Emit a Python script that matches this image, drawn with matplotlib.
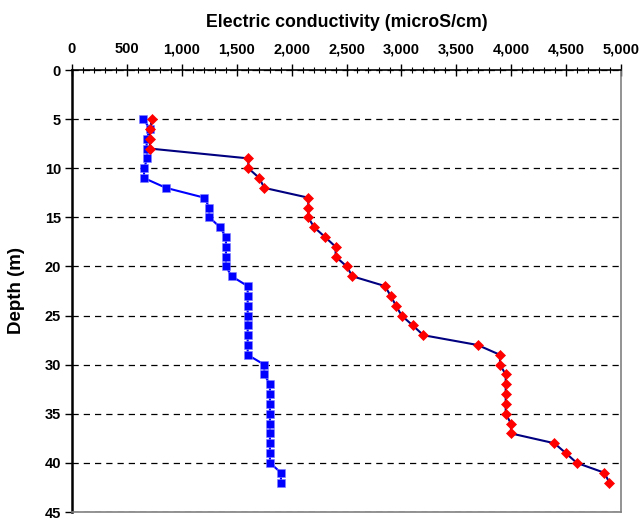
import matplotlib
matplotlib.use("Agg")
import matplotlib.pyplot as plt
from matplotlib.ticker import MultipleLocator, FuncFormatter

plt.rcParams['font.family'] = ['Liberation Sans', 'DejaVu Sans']
plt.rcParams['font.weight'] = 'bold'

depth_blue = list(range(5, 43))
ec_blue = [650, 710, 680, 680, 686, 656, 656, 856, 1205, 1250,
           1250, 1348, 1402, 1402, 1402, 1402, 1454, 1600, 1600, 1600,
           1600, 1600, 1600, 1600, 1600, 1751, 1751, 1803, 1803, 1803,
           1803, 1803, 1803, 1803, 1803, 1803, 1903, 1903]

depth_red = list(range(5, 43))
ec_red = [729, 710, 710, 710, 1606, 1606, 1706, 1751, 2152, 2152,
          2152, 2204, 2304, 2401, 2401, 2502, 2553, 2851, 2902, 2951,
          3002, 3103, 3200, 3695, 3898, 3898, 3950, 3950, 3950, 3950,
          3950, 3998, 3998, 4393, 4497, 4597, 4848, 4894]

xlabel = "Electric conductivity (microS/cm)"
ylabel = "Depth (m)"

fig = plt.figure(figsize=(6.43, 5.19), dpi=100)
ax = fig.add_axes([72/643, 1-512/519, (621-72)/643, (512-70)/519])

ax.plot(ec_blue, depth_blue, color='#0000FF', lw=1.5, marker='s',
        markersize=6.2, markerfacecolor='#0000FF', markeredgecolor='#8080FF',
        markeredgewidth=0.4, zorder=3)
ax.plot(ec_red, depth_red, color='#000080', lw=1.5, marker='D',
        markersize=5.4, markerfacecolor='#FF0000', markeredgecolor='#FF0000',
        markeredgewidth=0.5, zorder=4)

ax.set_xlim(0, 5000)
ax.set_ylim(45, 0)
ax.xaxis.tick_top()
ax.xaxis.set_label_position('top')
ax.xaxis.set_major_locator(MultipleLocator(500))
ax.xaxis.set_minor_locator(MultipleLocator(100))
ax.xaxis.set_major_formatter(FuncFormatter(lambda v, p: f"{int(v):,}"))
ax.yaxis.set_major_locator(MultipleLocator(5))

ax.tick_params(axis='x', which='major', direction='inout', length=8, width=1, pad=6,
               labelsize=10.5)
ax.tick_params(axis='x', which='minor', direction='inout', length=4, width=0.8)
ax.tick_params(axis='y', which='major', direction='out', length=5, width=1,
               labelsize=10.5, pad=3)
for lab in ax.get_xticklabels() + ax.get_yticklabels():
    lab.set_fontweight('bold')

ax.set_xlabel(xlabel, fontsize=12.8, fontweight='bold', labelpad=11)
ax.set_ylabel(ylabel, fontsize=13.5, fontweight='bold', labelpad=14)

ax.grid(axis='y', which='major', color='black', linestyle=(0, (5, 4)), lw=0.9)
ax.set_axisbelow(True)

ax.spines['left'].set_linewidth(1.8)
ax.spines['top'].set_linewidth(1.2)
ax.spines['right'].set_color('#808080')
ax.spines['right'].set_linewidth(1.2)
ax.spines['bottom'].set_color('#808080')
ax.spines['bottom'].set_linewidth(1.2)

fig.savefig('out.png', dpi=100)
